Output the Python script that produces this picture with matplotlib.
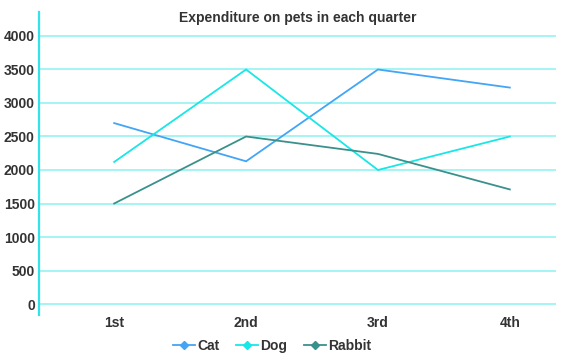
import matplotlib
matplotlib.use("Agg")
import matplotlib.pyplot as plt
from matplotlib.lines import Line2D

quarters = ["1st", "2nd", "3rd", "4th"]
cat = [2700, 2130, 3500, 3230]
dog = [2120, 3500, 2000, 2500]
rabbit = [1500, 2500, 2240, 1710]
yticks = [0, 500, 1000, 1500, 2000, 2500, 3000, 3500, 4000]

series = [("Cat", cat, "#42a5f5"), ("Dog", dog, "#19e6e6"), ("Rabbit", rabbit, "#3a918c")]

plt.rcParams['font.family'] = ['Liberation Sans', 'DejaVu Sans']
fig = plt.figure(figsize=(5.62, 3.63), dpi=100)
ax = fig.add_axes([39/562, 1-315/363, (556-39)/562, (315-12)/363])

x = list(range(len(quarters)))
for name, vals, col in series:
    ax.plot(x, vals, color=col, lw=1.3, solid_joinstyle='miter')

for t in yticks:
    ax.axhline(t, color="#9ef3f3", lw=1.3, zorder=0)

ax.set_xlim(-0.57, 3.35)
ax.set_ylim(-164, 4358)
ax.set_yticks(yticks)
ax.set_xticks(x)
ax.set_xticklabels(quarters)
for s in ["top", "right", "bottom"]:
    ax.spines[s].set_visible(False)
ax.spines["left"].set_color("#33e3ea")
ax.spines["left"].set_linewidth(1.6)
ax.tick_params(axis="both", length=0, labelsize=10, labelcolor="#333333")
ax.tick_params(axis="y", pad=3)
ax.tick_params(axis="x", pad=1)
for lab in ax.get_xticklabels() + ax.get_yticklabels():
    lab.set_fontweight("bold")

fig.text(298/562, 1-18/363, "Expenditure on pets in each quarter", ha="center", va="center",
         fontsize=10, fontweight="bold", color="#333333")

handles = [Line2D([0], [0], color=col, lw=1.3, marker="D", markersize=4.5,
                  markerfacecolor=col, markeredgecolor=col) for _, _, col in series]
leg = fig.legend(handles, [s[0] for s in series], loc="center", bbox_to_anchor=(272/562, 1-346/363),
                 ncol=3, frameon=False, handlelength=1.6, handletextpad=0.15, columnspacing=1.2,
                 prop={"weight": "bold", "size": 10})
for t in leg.get_texts():
    t.set_color("#333333")

fig.savefig("out.png", dpi=100)
